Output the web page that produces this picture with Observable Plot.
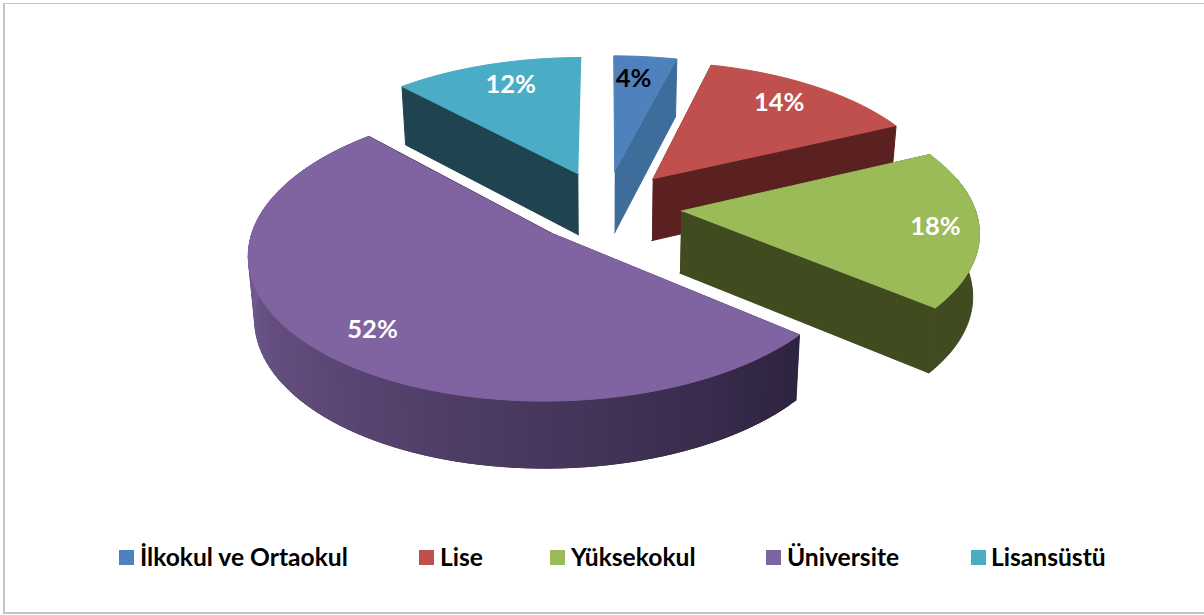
<!DOCTYPE html>
<html><head><meta charset="utf-8">
<script src="https://cdn.jsdelivr.net/npm/d3@7"></script>
<script src="https://cdn.jsdelivr.net/npm/@observablehq/plot@0.6"></script>
<style>
html,body{margin:0;padding:0;background:#fff}
#chart{position:relative;width:1204px;height:615px;overflow:hidden}
#frame{position:absolute;left:3px;top:3px;width:1210px;height:608px;border:solid #c4c4c4;border-width:1px 0 2px 2px;pointer-events:none}
.lg{position:absolute;top:543px;font:700 24.6px Lato,sans-serif;line-height:28px;color:#000;white-space:nowrap}
.sw{position:absolute;top:550px;width:15px;height:15px}
svg{position:absolute;left:0;top:0}
</style></head><body><div id="chart"><div id="frame"></div></div>
<script>
const categories = ["İlkokul ve Ortaokul","Lise","Yüksekokul","Üniversite","Lisansüstü"];
const shares = [4,14,18,52,12];
const topColors = ["#4f81bd","#c0504d","#9bbb59","#8064a2","#4bacc6"];
const sideColors = ["#3e6c9b","#5a2120","#404b20","#3a2c4e","#1f4450"];
const labelColors = ["#000","#fff","#fff","#fff","#fff"];
const labelRadius = [.789,.795,.855,.81,.793];
const labelShift = [-1.7,-1.6,.1,-1.7,1.8];
const swatchX = [119,419,550,766,971];
const textX = [140,440,571,787,991];

// view of the pie
const W=1204,H=615,cx=605,cy=206,k=293,q=.474,p=.127,explode=.26,drop=62/293,shrink=.982;
const rad=d=>d*Math.PI/180;
const project=(u,v,low)=>{const s=1+p*v;
  const px=u/s,py=q*v/s;
  return low?[px*shrink,py-drop/(1+.5*p*v)]:[px,py];};
const ends=d3.cumsum(shares).map(c=>c*3.6);
const slices=shares.map((s,i)=>{const a0=i?ends[i-1]:0,a1=ends[i],mid=(a0+a1)/2;
  return {i,a0,a1,mid,ou:explode*Math.sin(rad(mid)),ov:explode*Math.cos(rad(mid))};});
const rim=(sl,a,r=1)=>[sl.ou+r*Math.sin(rad(a)),sl.ov+r*Math.cos(rad(a))];
const arc=(sl,from,to)=>{const n=Math.max(2,Math.ceil(Math.abs(to-from)/2));
  return d3.range(n+1).map(j=>rim(sl,from+(to-from)*j/n));};

const polys=[];
const add=(id,pts,color)=>pts.forEach(([x,y])=>polys.push({id,x,y,color}));
const purpleRamp=d3.interpolateRgb("#2e2340","#72598f");
for(const sl of slices){
  const A=[sl.ou,sl.ov],side=sideColors[sl.i],base=`s${sl.i}`;
  for(const a of [sl.a0,sl.a1]){
    if(Math.abs(a%360)<.01||Math.abs(a-360)<.01) continue; // the edge pointing straight away shows no face
    const R=rim(sl,a);
    add(`${base}cut${a}`,[project(...A),project(...R),project(...R,true),project(...A,true)],side);
  }
  const strips=arc(sl,sl.a0,sl.a1);
  const purple=categories[sl.i]==="Üniversite";
  if(purple){
    for(let j=0;j<strips.length-1;j++){
      const a=sl.a0+(sl.a1-sl.a0)*j/(strips.length-1);
      const t=Math.min(1,Math.max(0,(a-129.6)/135));
      const e=Math.min(j+2,strips.length-1);
      add(`${base}w${j}`,[project(...strips[j]),project(...strips[e]),project(...strips[e],true),project(...strips[j],true)],d3.color(purpleRamp(t)).formatHex());
    }
  } else {
    // the far side of the outer wall faces away from the viewer
    const front=strips.filter(c=>c[1]-sl.ov<.25);
    if(front.length>1) add(`${base}wall`,[...front.map(c=>project(...c)),...front.slice().reverse().map(c=>project(...c,true))],side);
  }
  add(`${base}top`,[project(...A),...strips.map(c=>project(...c))],topColors[sl.i]);
}
const labels=slices.map(sl=>{const [u,v]=rim(sl,sl.mid+labelShift[sl.i],labelRadius[sl.i]);const [x,y]=project(u,v);
  return {x,y,text:shares[sl.i]+"%",color:labelColors[sl.i]};});

const plot=Plot.plot({width:W,height:H,margin:0,
  x:{domain:[-cx/k,(W-cx)/k],range:[0,W],axis:null},
  y:{domain:[(cy-H)/k,cy/k],range:[H,0],axis:null},
  color:{type:"identity"},
  marks:[
    Plot.line(polys,{x:"x",y:"y",z:"id",fill:"color",stroke:"color",strokeWidth:1}),
    Plot.text(labels,{x:"x",y:"y",text:"text",fill:"color",fontFamily:"Lato,sans-serif",fontWeight:700,fontSize:25.5})
  ]});
const root=document.getElementById("chart");
root.prepend(plot);
categories.forEach((c,i)=>{
  const s=document.createElement("div");s.className="sw";s.style.left=swatchX[i]+"px";s.style.background=topColors[i];root.append(s);
  const t=document.createElement("div");t.className="lg";t.style.left=textX[i]+"px";t.textContent=c;root.append(t);
});
</script></body></html>
